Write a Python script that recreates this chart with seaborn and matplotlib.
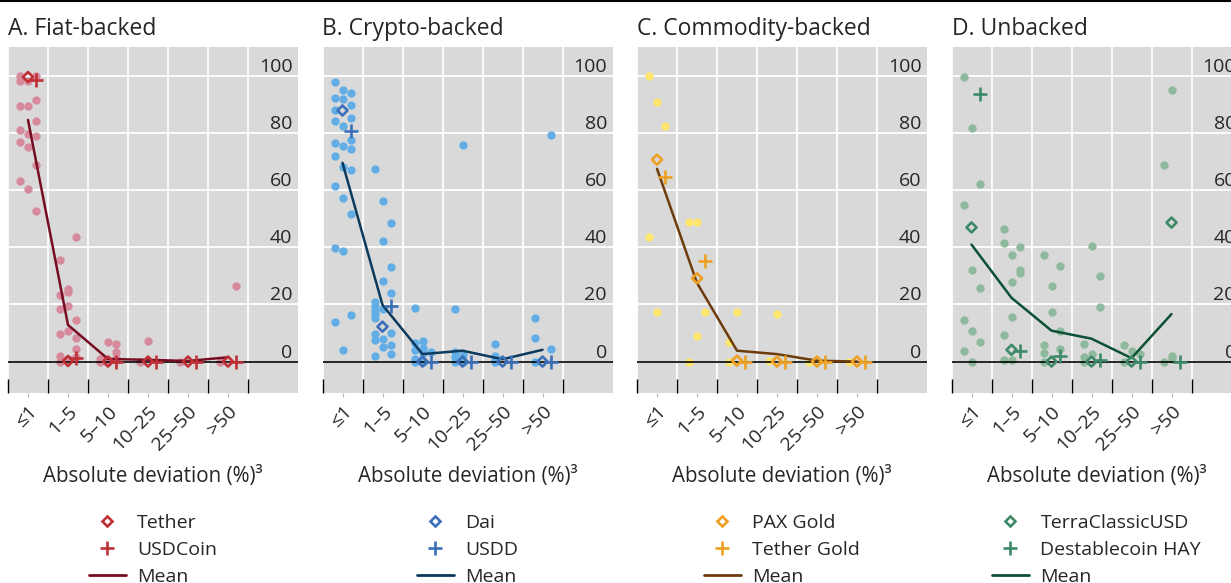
import numpy as np
import matplotlib
matplotlib.use("Agg")
import matplotlib.pyplot as plt
from matplotlib.lines import Line2D
from matplotlib.markers import MarkerStyle
import seaborn as sns

# deviation buckets (x axis)
CATS = ["≤1", "1–5", "5–10", "10–25", "25–50", ">50"]

# --- A. Fiat-backed: dots per bucket as (left, middle, right) groups
A_DOTS = {
    "≤1": ([100, 98, 89.4, 80.8, 76.9, 63.1], [98, 89.2, 79.7, 75, 60.3], [99.7, 91.6, 84.2, 79, 68.8, 52.6]),
    "1–5": ([35.6, 23.1, 18.3, 9.5, 2.1, 0], [25.2, 24.3, 19.5, 10.6, 1], [43.5, 14.4, 8.1, 4.3, 1.5]),
    "5–10": ([0.8, 0], [6.7, 0.5], [6.3, 3.4, 1.2]),
    "10–25": ([0], [7.3], []),
    "25–50": ([0], [], []),
    ">50": ([0], [], [26.5]),
}
A_TETHER = [99.5, 0.2, 0, 0, 0, 0]
A_USDCOIN = [98.6, 1.2, 0, 0, 0, 0]
A_MEAN = [84.5, 12.8, 0.9, 0.6, 0.2, 1.5]

# --- B. Crypto-backed
B_DOTS = {
    "≤1": ([97.9, 92.1, 87.8, 84.1, 76.4, 71.9, 61.3, 39.8, 13.8],
           [95, 91.9, 82.2, 75.5, 68, 57.3, 38.7, 4],
           [94, 89.8, 85.1, 77.6, 74.4, 66.9, 51.6, 16.3]),
    "1–5": ([67.2, 20.9, 19.5, 18, 16.6, 15.1, 9.7, 7.6, 2],
            [56.2, 42.3, 28, 18.3, 7.9, 5],
            [48.4, 33.1, 24.1, 10.1, 5.9, 2.6]),
    "5–10": ([18.7, 6.4, 4.1, 0.8, 0], [7.2, 4.9, 2.9, 0], [3.3]),
    "10–25": ([18.3, 3.5, 1.7, 0], [75.7, 2.3, 0], []),
    "25–50": ([6.2, 2, 0.6, 0], [], []),
    ">50": ([15.2, 8.4, 0], [], [79.4, 4.3]),
}
B_DAI = [87.8, 12.2, 0, 0, 0, 0]
B_USDD = [80.5, 19.5, 0, 0, 0, 0]
B_MEAN = [69.5, 19.8, 2.6, 3.8, 0.8, 4.1]

# --- C. Commodity-backed
C_DOTS = {
    "≤1": ([100, 43.6], [90.9, 17.2], [82.4]),
    "1–5": ([48.8, 0], [48.8, 9], [17.2]),
    "5–10": ([7, 0], [17.2], []),
    "10–25": ([0.3], [16.5], []),
    "25–50": ([0], [], []),
    ">50": ([0], [], []),
}
C_PAXG = [70.6, 29.1, 0.3, 0, 0, 0]
C_XAUT = [64.5, 35.2, 0, 0, 0, 0]
C_MEAN = [67.4, 27.5, 3.8, 2.6, 0.3, 0]

# --- D. Unbacked
D_DOTS = {
    "≤1": ([99.4, 54.8, 14.5, 3.6], [81.7, 31.9, 10.6, 0], [62.2, 25.6, 7]),
    "1–5": ([46.4, 41.5, 9.4, 0.6], [37.2, 27.8, 15.5, 0.6], [39.9, 32, 30.8]),
    "5–10": ([37.4, 5.8, 2.9, 0], [26.3, 17.3], [33.4, 10.6, 4.3]),
    "10–25": ([6, 1.5, 0], [40.3, 2.6], [30, 19]),
    "25–50": ([5.8, 0], [3.6], [2.7]),
    ">50": ([68.8, 0], [95.1, 2, 0.8], []),
}
D_USTC = [46.9, 4.1, 0, 0, 0, 48.6]
D_HAY = [93.4, 3.8, 2, 0.6, 0, 0]
D_MEAN = [40.9, 22.3, 10.8, 8, 1.2, 16.6]

PANELS = [
    ("A. Fiat-backed", A_DOTS, A_TETHER, A_USDCOIN, A_MEAN, ("Tether", "USDCoin"),
     ("#d68a9c", "#bf3036", "#760d22")),
    ("B. Crypto-backed", B_DOTS, B_DAI, B_USDD, B_MEAN, ("Dai", "USDD"),
     ("#62ade6", "#3b6fb8", "#0c3a5c")),
    ("C. Commodity-backed", C_DOTS, C_PAXG, C_XAUT, C_MEAN, ("PAX Gold", "Tether Gold"),
     ("#ffe66e", "#eda024", "#6e3c0c")),
    ("D. Unbacked", D_DOTS, D_USTC, D_HAY, D_MEAN, ("TerraClassicUSD", "Destablecoin HAY"),
     ("#8dba9c", "#3e8a68", "#0c5134")),
]

sns.set_theme(style="white")
plt.rcParams["font.family"] = ["Open Sans", "DejaVu Sans"]
FS = 14

W, H = 1231, 583
fig = plt.figure(figsize=(W / 100, H / 100), dpi=100)
fig.add_artist(Line2D([0, 1], [1 - 1 / H, 1 - 1 / H], color="black", lw=1.5))

OFF = 0.2  # horizontal offset of the dot columns
for k, (title, dots, first, second, mean, names, colors) in enumerate(PANELS):
    dot_c, mark_c, mean_c = colors
    left = 8 + k * 314.5
    ax = fig.add_axes([left / W, 190 / H, 290 / W, 346 / H])
    ax.set_facecolor("#d9d9d9")

    xs, ys = [], []
    for i, cat in enumerate(CATS):
        for col, vals in zip((-1, 0, 1), dots[cat]):
            xs += [i + col * OFF] * len(vals)
            ys += list(vals)
    sns.scatterplot(x=xs, y=ys, color=dot_c, s=36, linewidth=0, ax=ax, zorder=2)

    ax.axhline(0, color="black", lw=1.2, zorder=2.5)
    pos = np.arange(len(CATS))
    sns.lineplot(x=pos, y=mean, color=mean_c, lw=1.8, ax=ax, zorder=4)
    sns.scatterplot(x=pos, y=first, marker=MarkerStyle("D", fillstyle="none"),
                    color=mark_c, s=26, linewidth=1.9, ax=ax, zorder=5)
    sns.scatterplot(x=pos + OFF, y=second, marker="+", color=mark_c, s=110,
                    linewidth=1.9, ax=ax, zorder=5)

    ax.set_xlim(-0.5, 6.75)
    ax.set_ylim(-11, 110)
    ax.set_xticks(np.arange(-0.5, 6, 1))
    ax.set_xticklabels([])
    ax.set_xticks(pos, minor=True)
    ax.set_xticklabels(CATS, minor=True, rotation=45, ha="right", rotation_mode="anchor")
    ax.tick_params(axis="x", which="major", direction="in", length=10, width=1,
                   color="black", bottom=True)
    ax.tick_params(axis="x", which="minor", direction="out", length=3, width=0.8,
                   color="#bbbbbb", pad=4, labelsize=FS, bottom=True)

    ax.set_yticks(np.arange(0, 101, 20))
    ax.yaxis.tick_right()
    ax.tick_params(axis="y", length=0, pad=-4, labelsize=FS)
    for t in ax.get_yticklabels():
        t.set_ha("right")
        t.set_va("bottom")

    ax.grid(True, which="major", color="white", lw=1.3)
    ax.set_axisbelow(True)
    for sp in ax.spines.values():
        sp.set_visible(False)

    ax.set_title(title, loc="left", fontsize=16.5, pad=8.4)
    ax.set_xlabel("Absolute deviation (%)³", fontsize=14.8)
    ax.xaxis.set_label_coords(0.5, -0.212)
    ax.set_ylabel("")

    handles = [
        Line2D([], [], ls="", marker=MarkerStyle("D", fillstyle="none"), color=mark_c,
               markersize=5, mew=1.9),
        Line2D([], [], ls="", marker="+", color=mark_c, markersize=10, mew=1.9),
        Line2D([], [], color=mean_c, lw=2),
    ]
    ax.legend(handles, [names[0], names[1], "Mean"], loc="upper center",
              bbox_to_anchor=(0.5, -0.35), frameon=False, fontsize=FS,
              handlelength=1.9, handletextpad=0.6, labelspacing=0.46,
              borderpad=0, borderaxespad=0)

fig.savefig("out.png", dpi=100)
